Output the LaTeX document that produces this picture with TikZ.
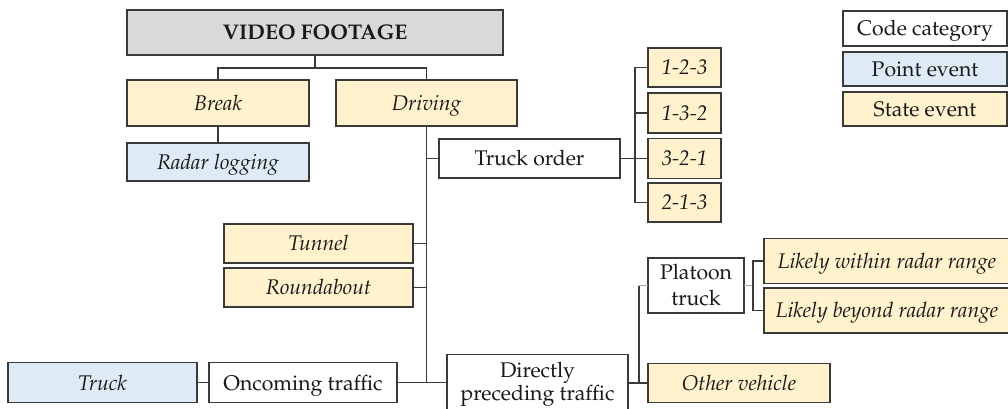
\documentclass[tikz,border=0pt]{standalone}
\usepackage[T1]{fontenc}
\usepackage{mathpazo}
\definecolor{stateev}{HTML}{FFF2CC}
\definecolor{pointev}{HTML}{DEEBF7}
\definecolor{headgray}{HTML}{D9D9D9}
\definecolor{edgegray}{HTML}{3A3A3A}
\definecolor{linkgray}{HTML}{A6A6A6}
\newcommand{\boxfont}{\fontsize{21.2}{24}\selectfont}
\tikzset{
  frame/.style={draw=edgegray, line width=1.4pt, inner sep=0pt, outer sep=0pt,
    align=center, font=\boxfont, text=black!90},
  % single-line boxes: capitals centred in the box
  box/.style={frame, text height=14.6pt, text depth=-1.5pt},
  category/.style={box, fill=white},
  twoline/.style={frame, fill=white},
  pointbox/.style={box, fill=pointev, font=\boxfont\itshape},
  statebox/.style={box, fill=stateev, font=\boxfont\itshape},
  link/.style={draw=edgegray, line width=1.5pt},
  faintlink/.style={draw=linkgray, line width=0.8pt},
}
\begin{document}
\begin{tikzpicture}[x=1pt, y=-1pt]
\useasboundingbox[fill=white] (0,0) rectangle (1008,408);

% root
\node[box, fill=headgray, minimum width=376pt, minimum height=45pt,
  font=\boxfont\bfseries] (vf) at (315,32.5) {VIDEO FOOTAGE};

% first level
\node[statebox, minimum width=182pt, minimum height=46pt] (brk) at (218,103) {Break};
\node[statebox, minimum width=181pt, minimum height=46pt] (drv) at (426.5,103) {Driving};
\node[pointbox, minimum width=182pt, minimum height=38pt] (radar) at (218,162) {Radar logging};

% truck order and its codes
\node[category, minimum width=181pt, minimum height=39pt] (tord) at (529.5,158.5) {Truck order};
\node[statebox, minimum width=73pt, minimum height=39pt] (c123) at (684.5,67.5) {1-2-3};
\node[statebox, minimum width=73pt, minimum height=40pt] (c132) at (684.5,113) {1-3-2};
\node[statebox, minimum width=73pt, minimum height=40pt] (c321) at (684.5,158.5) {3-2-1};
\node[statebox, minimum width=73pt, minimum height=39pt] (c213) at (684.5,202.5) {2-1-3};

% road features
\node[statebox, minimum width=189pt, minimum height=39pt] (tunnel) at (318.5,243.5) {Tunnel};
\node[statebox, minimum width=189pt, minimum height=39pt] (round) at (318.5,287.5) {Roundabout};

% traffic
\node[category, minimum width=188pt, minimum height=40pt] (onc) at (303,382.7) {Oncoming traffic};
\node[pointbox, minimum width=189pt, minimum height=40pt] (truck) at (102.5,382.7) {Truck};
\node[twoline, minimum width=181pt, minimum height=59pt] (dir) at (537.5,384) {Directly\\[-1pt]preceding traffic};
\node[twoline, minimum width=96pt, minimum height=55pt] (plt) at (696,285.5) {Platoon\\[2pt]truck};
\node[statebox, minimum width=246pt, minimum height=45pt] (within) at (887,260.8) {Likely within radar range};
\node[statebox, minimum width=246pt, minimum height=45pt] (beyond) at (887,310.5) {Likely beyond radar range};
\node[statebox, minimum width=182pt, minimum height=39pt] (other) at (739,382.8) {Other vehicle};

% legend
\node[category, minimum width=164pt, minimum height=35pt] (leg1) at (925,28.5) {Code category};
\node[box, fill=pointev, minimum width=164pt, minimum height=34pt] (leg2) at (925,69) {Point event};
\node[box, fill=stateev, minimum width=164pt, minimum height=34pt] (leg3) at (925,109) {State event};

% connectors
\coordinate (j1) at (315,68);
\draw[link] (vf.south) -- (j1);
\draw[link] (brk.north) |- (j1) -| (drv.north);
\draw[link] (brk.south) -- (radar.north);

\coordinate (tb) at (drv.south |- onc.east);
\draw[link] (drv.south) -- (tb);
\draw[link] (tord.west -| drv.south) -- (tord.west);
\draw[link] (tunnel.east) -- (tunnel.east -| drv.south);
\draw[link] (round.east) -- (round.east -| drv.south);
\draw[link] (onc.east) -- (onc.east -| dir.west);
\draw[link] (truck.east) -- (onc.west);

\draw[link] (tord.east) -- (c321.west);
\draw[link] (c123.west) -- ++(-13,0) |- (c213.west);
\draw[link] (c132.west) -- ++(-13,0);

\path (plt.west) ++(-9,0) coordinate (b2);
\draw[faintlink] (plt.west) -- (b2);
\draw[link] (b2) -- (b2 |- other.west);
\draw[link] (other.west -| dir.east) -- (other.west);

\path (plt.east) ++(9,0) coordinate (b3);
\draw[faintlink] (plt.east) -- (b3);
\draw[link] (within.west) -- ++(-11,0) |- (beyond.west);
\end{tikzpicture}
\end{document}
